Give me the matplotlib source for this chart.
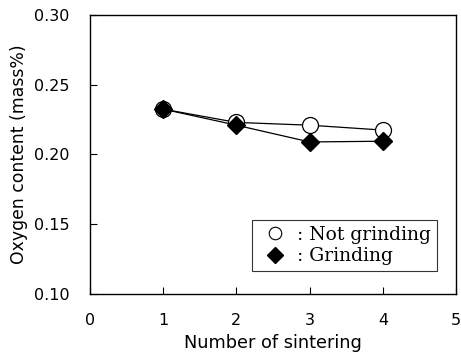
import matplotlib
matplotlib.use("Agg")
import matplotlib.pyplot as plt
from matplotlib.lines import Line2D

x = [1, 2, 3, 4]
not_grinding = [0.2325, 0.2230, 0.2210, 0.2175]
grinding = [0.2325, 0.2210, 0.2090, 0.2095]
xticks = [0, 1, 2, 3, 4, 5]
yticks = [0.10, 0.15, 0.20, 0.25, 0.30]
labels = [": Not grinding", ": Grinding"]

fig = plt.figure(figsize=(4.61, 3.61), dpi=100)
ax = fig.add_axes([0.1952, 0.1856, 0.794, 0.7729])
ax.plot(x, not_grinding, color='black', lw=0.9, marker='o', ms=11.5,
        mfc='white', mec='black', mew=0.9, zorder=3)
ax.plot(x, grinding, color='black', lw=0.9, marker='D', ms=9.5,
        mfc='black', mec='black', zorder=4)
ax.set_xlim(0, 5)
ax.set_ylim(0.10, 0.30)
ax.set_xticks(xticks)
ax.set_yticks(yticks)
ax.set_xticklabels([str(t) for t in xticks])
ax.set_yticklabels([f"{t:.2f}" for t in yticks])
ax.tick_params(direction='in', length=5, width=0.8, labelsize=11.5)
ax.tick_params(axis='x', pad=14)
ax.tick_params(axis='y', pad=15)
for s in ax.spines.values():
    s.set_linewidth(1.0)
ax.set_xlabel("Number of sintering", fontsize=12.8, labelpad=4)
ax.set_ylabel("Oxygen content (mass%)", fontsize=12.4, labelpad=4)

handles = [Line2D([], [], ls='none', marker='o', ms=9, mfc='white', mec='black', mew=0.8),
           Line2D([], [], ls='none', marker='D', ms=8, mfc='black', mec='black')]
leg = ax.legend(handles, labels, loc='lower right',
                bbox_to_anchor=(0.948, 0.0824), frameon=True, fancybox=False,
                edgecolor='black', prop={'family': 'DejaVu Serif', 'size': 13.5},
                handletextpad=0.3, handlelength=1.85, borderpad=0.3, labelspacing=0.2,
                borderaxespad=0)
leg.get_frame().set_linewidth(0.8)
fig.savefig("out.png", dpi=100)
